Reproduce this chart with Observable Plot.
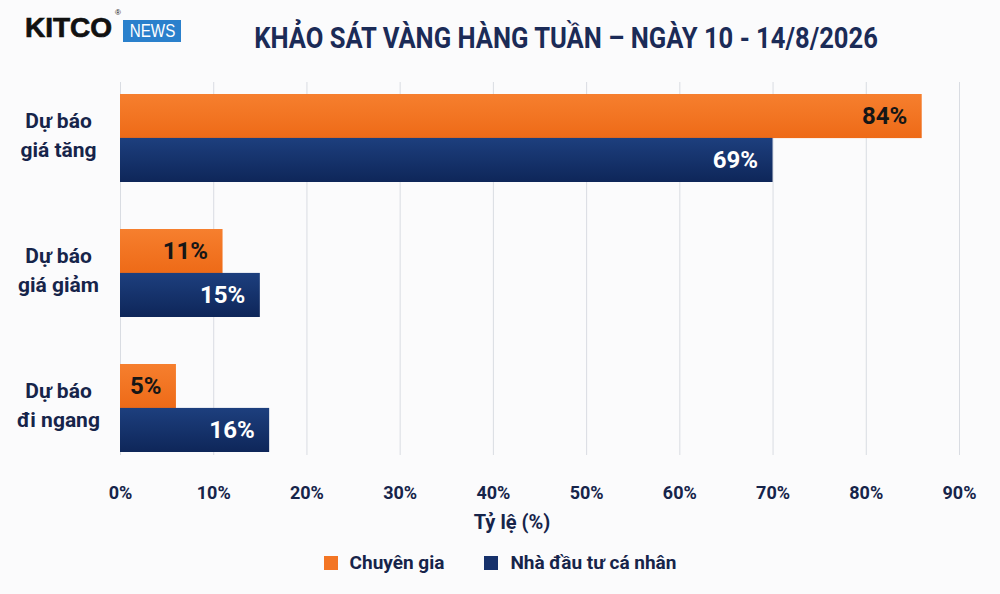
<!DOCTYPE html>
<html><head><meta charset="utf-8">
<script src="https://cdn.jsdelivr.net/npm/d3@7"></script>
<script src="https://cdn.jsdelivr.net/npm/@observablehq/plot@0.6"></script>
<style>
body{margin:0;background:#fbfbfc;}
#wrap{position:relative;width:1000px;height:594px;overflow:hidden;font-family:Roboto,sans-serif;color:#16244a}
#header{position:relative;height:70px}
#kitco{position:absolute;left:25px;top:14px;font-family:"Liberation Sans",Arial,sans-serif;font-weight:bold;font-size:28px;line-height:28px;color:#111;letter-spacing:0px;-webkit-text-stroke:0.7px #111}
#reg{position:absolute;left:115px;top:8px;font-family:"Liberation Sans",sans-serif;font-size:8px;color:#111}
#news{position:absolute;left:123px;top:20px;width:58px;height:22px;background:#2a80cc;color:#fff;font-family:"Liberation Sans",Arial,sans-serif;font-size:19px;line-height:22px;text-align:center;overflow:hidden}
#news span{display:inline-block;transform:scaleX(0.8)}
#title{position:absolute;left:566px;top:20px;transform:translateX(-50%) scaleX(0.853);white-space:nowrap;font-weight:bold;font-size:30px;color:#1b2b57}
#legend{display:flex;justify-content:center;align-items:center;margin-top:11px;font-weight:bold;font-size:19px;color:#16244a}
.sw{width:14px;height:14px;display:inline-block;margin-right:12px}
.item{display:flex;align-items:center;margin:0 20px}
</style></head>
<body><div id="wrap">
<div id="header">
  <div id="kitco">KITCO</div><div id="reg">®</div><div id="news"><span>NEWS</span></div>
  <div id="title">KHẢO SÁT VÀNG HÀNG TUẦN – NGÀY 10 - 14/8/2026</div>
</div>
<div id="chart"></div>
<div id="legend"></div>
</div>
<script>
const categories = ["Dự báo\ngiá tăng", "Dự báo\ngiá giảm", "Dự báo\nđi ngang"];
const seriesNames = ["Chuyên gia", "Nhà đầu tư cá nhân"];
const expertBars = [86, 11, 6];
const investorBars = [70, 15, 16];
const expertLabels = ["84%", "11%", "5%"];
const investorLabels = ["69%", "15%", "16%"];
const xTicks = [0, 10, 20, 30, 40, 50, 60, 70, 80, 90];
const axisTitle = "Tỷ lệ (%)";

const orange = "#f37524";
const navy = "#16316b";
const textNavy = "#16244a";
const font = "Roboto, sans-serif";

const experts = categories.map((c, i) => ({cat: c, v: expertBars[i], label: expertLabels[i]}));
const investors = categories.map((c, i) => ({cat: c, v: investorBars[i], label: investorLabels[i]}));

const yRange = [24, 382];
const padIn = 0.35;
const bw = (yRange[1] - yRange[0]) / (categories.length - padIn) * (1 - padIn);

const chart = Plot.plot({
  width: 1000,
  height: 470,
  marginLeft: 120,
  marginRight: 41,
  marginTop: 12,
  marginBottom: 85,
  style: {fontFamily: font, fontWeight: "bold", fontSize: "18px", color: textNavy, background: "transparent"},
  x: {domain: [0, 90]},
  y: {type: "band", domain: categories, range: yRange, paddingInner: padIn, paddingOuter: 0, axis: null},
  marks: [
    Plot.gridX(xTicks, {stroke: "#d9dce2", strokeOpacity: 1, strokeWidth: 1}),
    Plot.barX(experts, {x: "v", y: "cat", fill: "url(#gOrange)", insetBottom: bw / 2}),
    Plot.barX(investors, {x: "v", y: "cat", fill: "url(#gNavy)", insetTop: bw / 2}),
    Plot.text(experts, {x: "v", y: "cat", text: "label", textAnchor: "end", dx: -15, dy: -bw / 4, fill: "#161616", fontSize: 24}),
    Plot.text(investors, {x: "v", y: "cat", text: "label", textAnchor: "end", dx: -15, dy: bw / 4, fill: "#ffffff", fontSize: 24}),
    Plot.text(categories, {y: d => d, text: d => d, frameAnchor: "left", dx: -62, dy: -5, textAnchor: "middle", fontSize: 21, lineHeight: 1.38, fill: textNavy}),
    Plot.axisX(xTicks, {tickSize: 0, tickPadding: 31, tickFormat: d => d + "%", label: null, fontSize: 18}),
    Plot.text([axisTitle], {frameAnchor: "bottom", dy: 73, dx: -28, fontSize: 20, fill: textNavy})
  ]
});

const svg = d3.select(chart);
const defs = svg.insert("defs", ":first-child");
const go = defs.append("linearGradient").attr("id", "gOrange").attr("x1", 0).attr("y1", 0).attr("x2", 0).attr("y2", 1);
go.append("stop").attr("offset", "0%").attr("stop-color", "#f67f2e");
go.append("stop").attr("offset", "100%").attr("stop-color", "#ee6a17");
const gn = defs.append("linearGradient").attr("id", "gNavy").attr("x1", 0).attr("y1", 0).attr("x2", 0).attr("y2", 1);
gn.append("stop").attr("offset", "0%").attr("stop-color", "#1d3f7e");
gn.append("stop").attr("offset", "100%").attr("stop-color", "#0e2659");

document.getElementById("chart").appendChild(chart);

const legend = document.getElementById("legend");
[orange, navy].forEach((col, i) => {
  const it = document.createElement("div");
  it.className = "item";
  it.innerHTML = `<span class="sw" style="background:${col}"></span><span>${seriesNames[i]}</span>`;
  legend.appendChild(it);
});
</script>
</body></html>
